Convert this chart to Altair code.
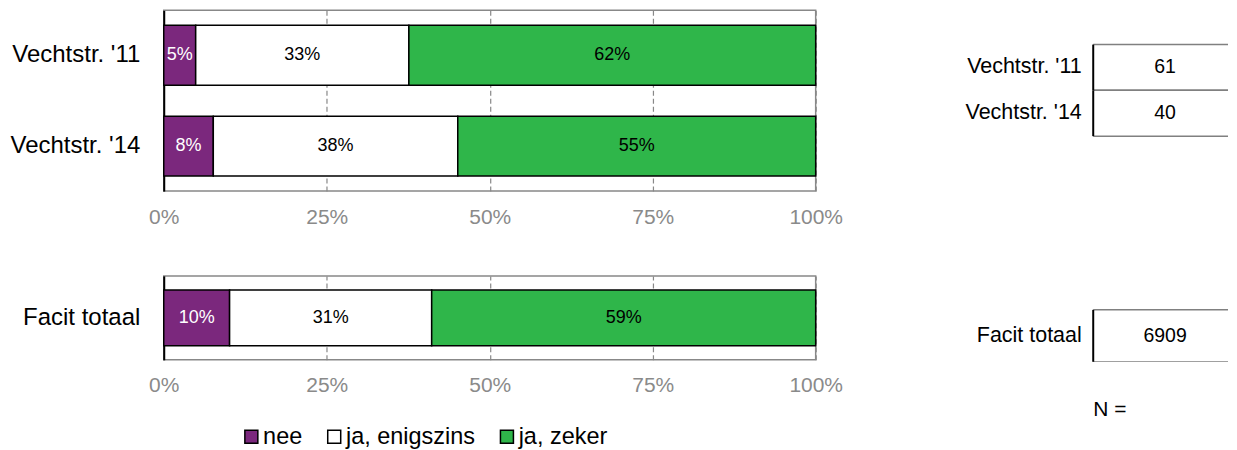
import altair as alt
import pandas as pd

# ---------------- data ----------------
groups_top = ["Vechtstr. '11", "Vechtstr. '14"]
groups_bottom = ["Facit totaal"]
categories = ["nee", "ja, enigszins", "ja, zeker"]
nee = [4.9, 7.6, 10.1]
enigszins = [32.7, 37.5, 31.0]
zeker = [62.4, 54.9, 58.9]
n_values = [61, 40, 6909]
tick_values = [0, 25, 50, 75, 100]
colors = ["#7B287D", "#FFFFFF", "#2FB64A"]

all_groups = groups_top + groups_bottom
rows = []
for gi, g in enumerate(all_groups):
    for ci, (c, vals) in enumerate(zip(categories, [nee, enigszins, zeker])):
        rows.append({"group": g, "category": c, "order": ci, "value": vals[gi]})
df = pd.DataFrame(rows)
n_df = pd.DataFrame({"group": all_groups, "n": [str(v) for v in n_values]})

FONT = "Liberation Sans"
BAR_W = 653
N_W = 135
N_TEXT_X = 72


def bar_panel(groups, height, pad_inner, pad_outer, show_legend):
    base = alt.Chart(df).transform_filter(
        alt.FieldOneOfPredicate(field="group", oneOf=groups)
    )
    y_scale = alt.Scale(paddingInner=pad_inner, paddingOuter=pad_outer)
    y_axis = alt.Axis(domainColor="black", domainWidth=2, ticks=False, grid=False,
                      labelPadding=24, labelFontSize=24, labelColor="black")
    x_scale = alt.Scale(domain=[0, 100], nice=False)
    x_axis = alt.Axis(values=tick_values, labelExpr="datum.value + '%'", grid=True,
                      gridDash=[5, 3], gridColor="#888888", gridWidth=1.2,
                      domain=False, ticks=False, labelColor="#8a8a8a", labelFlush=False,
                      labelFontSize=21, labelPadding=15)
    if show_legend:
        legend = alt.Legend(orient="none", legendX=76, legendY=415, direction="horizontal",
                            title=None, symbolType="square", symbolSize=169,
                            symbolStrokeColor="black", symbolStrokeWidth=1.5,
                            labelFontSize=23.5, labelColor="black", columnPadding=20,
                            labelOffset=0)
    else:
        legend = None
    bars = base.mark_bar(stroke="black", strokeWidth=1.5).encode(
        x=alt.X("value:Q", stack="zero", title=None, scale=x_scale, axis=x_axis),
        y=alt.Y("group:N", sort=groups, title=None, scale=y_scale, axis=y_axis),
        color=alt.Color("category:N", scale=alt.Scale(domain=categories, range=colors),
                        legend=legend),
        order=alt.Order("order:Q"),
    )
    text = base.transform_window(
        cum="sum(value)", groupby=["group"], sort=[alt.SortField("order")], frame=[None, 0]
    ).transform_calculate(
        mid="datum.cum - datum.value / 2",
        label="format(datum.value, '.0f') + '%'",
    ).mark_text(fontSize=18).encode(
        x=alt.X("mid:Q", title=None, scale=x_scale, axis=x_axis),
        y=alt.Y("group:N", sort=groups, title=None, scale=y_scale, axis=y_axis),
        text="label:N",
        color=alt.condition("datum.category == 'nee'", alt.value("white"), alt.value("black")),
    )
    return alt.layer(bars, text).properties(width=BAR_W, height=height)


def n_panel(groups, height, pad_outer, align, title=None):
    base = alt.Chart(n_df).transform_filter(
        alt.FieldOneOfPredicate(field="group", oneOf=groups)
    )
    y = alt.Y("group:N", sort=groups, title=None,
              scale=alt.Scale(paddingInner=0, paddingOuter=pad_outer, align=align),
              axis=alt.Axis(domain=False, ticks=False, grid=False, labelPadding=12,
                            labelFontSize=21.5, labelColor="black"))
    boxes = base.mark_rect(fill="white", stroke="#808080", strokeWidth=1.5, clip=True).encode(
        y=y, x=alt.value(0), x2=alt.value(N_W + 20)
    )
    edge = base.mark_rect(fill="black").encode(y=y, x=alt.value(-1), x2=alt.value(1))
    txt = base.mark_text(fontSize=19.5, color="black").encode(
        y=y, x=alt.value(N_TEXT_X), text="n:N"
    )
    props = dict(width=N_W, height=height, view=alt.ViewBackground(stroke="transparent"))
    if title is not None:
        props["title"] = title
    return alt.layer(boxes, edge, txt).properties(**props)


top_bar = bar_panel(groups_top, 181, 0.34, 0.165, True)
bottom_bar = bar_panel(groups_bottom, 84, 0.0, 0.25, True)
top_n = n_panel(groups_top, 181, 0.974, 0.384)
bottom_n = n_panel(
    groups_bottom, 86, 0.327, 1.0,
    title=alt.TitleParams("N =", orient="bottom", anchor="start", frame="group",
                          offset=37, fontSize=21, fontWeight="normal", color="black"),
)

chart = alt.concat(
    top_bar, top_n, bottom_bar, bottom_n,
    columns=2, spacing={"row": 85, "column": 278}, bounds="flush",
).properties(
    padding={"left": 1, "top": 1, "right": 0, "bottom": 0}
).configure(
    font=FONT
).configure_view(
    stroke="#888888", strokeWidth=1.5
)

chart.save("out.html", embed_options={"renderer": "svg", "actions": False})
